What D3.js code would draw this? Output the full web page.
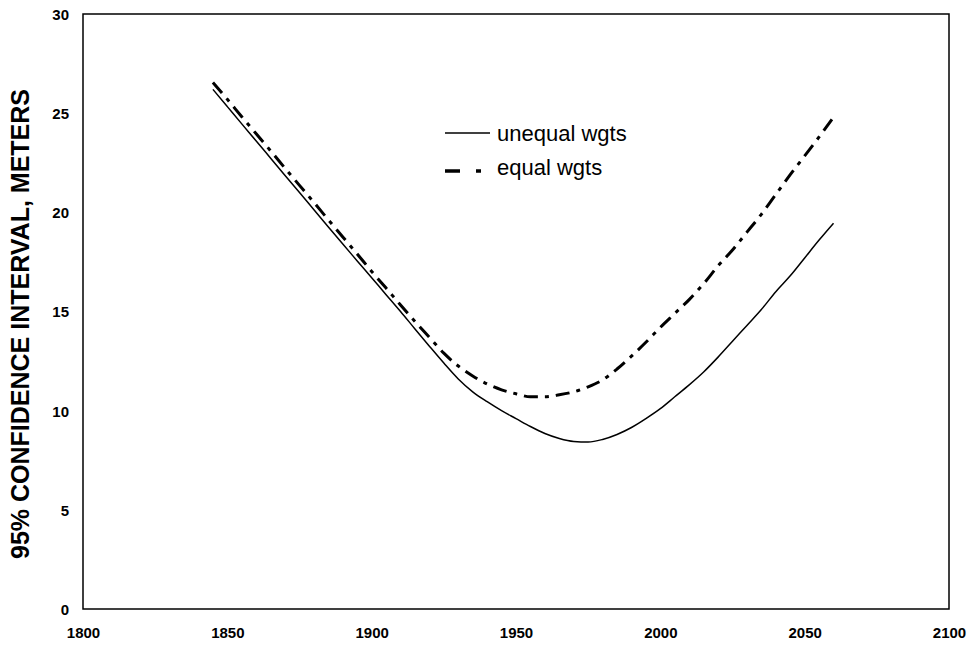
<!DOCTYPE html>
<html>
<head>
<meta charset="utf-8">
<script src="https://cdn.jsdelivr.net/npm/d3@7"></script>
<style>
  html, body { margin: 0; padding: 0; background: #fff; }
  svg { display: block; font-family: "Liberation Sans", Arial, sans-serif; }
  .tick text { font-weight: bold; font-size: 15px; fill: #000; }
</style>
</head>
<body>
<div id="chart"></div>
<script>
// 95% confidence interval vs year, unequal vs equal weights
const years = [1845, 1850, 1855, 1860, 1865, 1870, 1875, 1880, 1885, 1890, 1895,
  1900, 1905, 1910, 1915, 1920, 1925, 1930, 1935, 1940, 1945, 1950, 1955,
  1960, 1965, 1970, 1975, 1980, 1985, 1990, 1995, 2000, 2005, 2010, 2015,
  2020, 2025, 2030, 2035, 2040, 2045, 2050, 2055, 2060];

const unequalWgts = [26.2, 25.33, 24.46, 23.6, 22.73, 21.86, 21.0, 20.13, 19.26, 18.4, 17.55,
  16.7, 15.85, 15.0, 14.12, 13.25, 12.4, 11.6, 10.95, 10.45, 10.0, 9.6, 9.2,
  8.85, 8.6, 8.45, 8.42, 8.55, 8.8, 9.15, 9.6, 10.1, 10.7, 11.3, 11.95,
  12.7, 13.5, 14.3, 15.1, 16.0, 16.8, 17.7, 18.6, 19.45];

const equalWgts = [26.55, 25.7, 24.82, 23.96, 23.1, 22.22, 21.36, 20.5, 19.62, 18.76, 17.9,
  17.02, 16.18, 15.33, 14.5, 13.7, 12.9, 12.25, 11.75, 11.35, 11.05, 10.85, 10.7,
  10.7, 10.8, 10.95, 11.2, 11.55, 12.1, 12.75, 13.45, 14.2, 14.9, 15.6, 16.4,
  17.3, 18.1, 19.0, 19.9, 20.9, 21.9, 22.85, 23.8, 24.8];

const seriesNames = ["unequal wgts", "equal wgts"];
const xTicks = [1800, 1850, 1900, 1950, 2000, 2050, 2100];
const yTicks = [0, 5, 10, 15, 20, 25, 30];
const yTitle = "95% CONFIDENCE INTERVAL, METERS";

const W = 974, H = 645;
const M = { top: 14, right: 25, bottom: 36, left: 83 };
const innerW = W - M.left - M.right;
const innerH = H - M.top - M.bottom;

const svg = d3.select("#chart").append("svg")
  .attr("width", W).attr("height", H);

const g = svg.append("g").attr("transform", `translate(${M.left},${M.top})`);

const x = d3.scaleLinear().domain([1800, 2100]).range([0, innerW]);
const y = d3.scaleLinear().domain([0, 30]).range([innerH, 0]);

// frame
g.append("rect")
  .attr("x", 0).attr("y", 0).attr("width", innerW).attr("height", innerH)
  .attr("fill", "none").attr("stroke", "#000").attr("stroke-width", 1.5);

// axes: labels only, no tick marks
const xAxis = g.append("g")
  .attr("transform", `translate(0,${innerH})`)
  .call(d3.axisBottom(x).tickValues(xTicks).tickSize(0).tickFormat(d3.format("d")));
xAxis.select(".domain").remove();
xAxis.selectAll("text").attr("y", 29).attr("dy", 0);

const yAxis = g.append("g")
  .call(d3.axisLeft(y).tickValues(yTicks).tickSize(0));
yAxis.select(".domain").remove();
yAxis.selectAll("text").attr("x", -14).attr("dy", "0.36em");

// y title
svg.append("text")
  .attr("transform", `translate(29,${324})rotate(-90)`)
  .attr("text-anchor", "middle")
  .attr("font-weight", "bold")
  .attr("font-size", 25)
  .attr("fill", "#000")
  .text(yTitle);

// lines
const line = (vals) => d3.line()
  .x((d, i) => x(years[i]))
  .y((d) => y(d))
  .curve(d3.curveMonotoneX)(vals);

g.append("path")
  .attr("d", line(unequalWgts))
  .attr("fill", "none").attr("stroke", "#000").attr("stroke-width", 1.5);

g.append("path")
  .attr("d", line(equalWgts))
  .attr("fill", "none").attr("stroke", "#000").attr("stroke-width", 3)
  .attr("stroke-dasharray", "14,7,4,7");

// legend
const lg = svg.append("g");
lg.append("line")
  .attr("x1", 445).attr("x2", 490).attr("y1", 133).attr("y2", 133)
  .attr("stroke", "#000").attr("stroke-width", 1.5);
lg.append("text")
  .attr("x", 497).attr("y", 141)
  .attr("font-size", 22).attr("fill", "#000")
  .text(seriesNames[0]);
lg.append("line")
  .attr("x1", 445).attr("x2", 481).attr("y1", 171).attr("y2", 171)
  .attr("stroke", "#000").attr("stroke-width", 3.5)
  .attr("stroke-dasharray", "15,16,5");
lg.append("text")
  .attr("x", 497).attr("y", 175)
  .attr("font-size", 22).attr("fill", "#000")
  .text(seriesNames[1]);
</script>
</body>
</html>
